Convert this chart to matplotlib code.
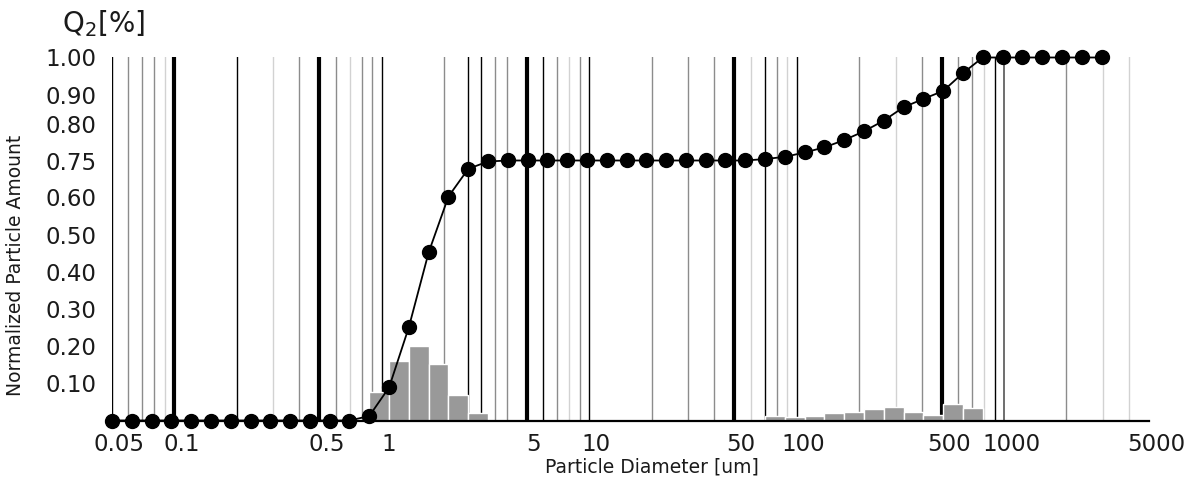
import numpy as np
import matplotlib
matplotlib.use("Agg")
import matplotlib.pyplot as plt
from matplotlib.ticker import NullLocator
from matplotlib.transforms import ScaledTranslation

# Particle diameters of the measured size classes [um]
diameters = [0.05, 0.0623, 0.0776, 0.0967, 0.120, 0.150, 0.187, 0.233, 0.290, 0.361,
             0.450, 0.561, 0.698, 0.870, 1.084, 1.350, 1.682, 2.095, 2.610, 3.251,
             4.050, 5.045, 6.285, 7.829, 9.753, 12.15, 15.13, 18.85, 23.48, 29.25,
             36.44, 45.39, 56.55, 70.44, 87.75, 109.3, 136.2, 169.6, 211.3, 263.2,
             327.9, 408.5, 508.8, 633.8, 789.6, 983.6, 1225.0, 1526.0, 1901.0, 2369.0,
             2951.0]

# Cumulative normalized amount Q2 at each diameter
cumulative = [0.0, 0.0, 0.0, 0.0, 0.0, 0.0, 0.0, 0.0, 0.0, 0.0,
              0.0, 0.0, 0.0, 0.012, 0.089, 0.251, 0.452, 0.603, 0.716, 0.746,
              0.75, 0.75, 0.75, 0.75, 0.75, 0.75, 0.75, 0.75, 0.75, 0.75,
              0.75, 0.75, 0.75, 0.752, 0.755, 0.761, 0.768, 0.778, 0.790, 0.812,
              0.859, 0.888, 0.912, 0.959, 1.0, 1.0, 1.0, 1.0, 1.0, 1.0,
              1.0]

# Class-wise amounts (histogram), fine fraction and coarse fraction
fine_bin_edges = [0.870, 1.084, 1.350, 1.682, 2.095, 2.610, 3.251]
fine_amounts = [0.076, 0.159, 0.200, 0.152, 0.069, 0.020]
coarse_bin_edges = [70.44, 87.75, 109.3, 136.2, 169.6, 211.3, 263.2, 327.9,
                    408.5, 508.8, 633.8, 789.6]
coarse_amounts = [0.013, 0.009, 0.013, 0.019, 0.024, 0.031, 0.035, 0.022,
                  0.016, 0.045, 0.033]

# Axis ticks
xtick_values = [0.05, 0.1, 0.5, 1, 5, 10, 50, 100, 500, 1000, 5000]
xtick_labels = ["0.05", "0.1", "0.5", "1", "5", "10", "50", "100", "500", "1000", "5000"]
ytick_values = [0.1, 0.2, 0.3, 0.4, 0.5, 0.6, 0.75, 0.8, 0.9, 1.0]
ytick_labels = ["0.10", "0.20", "0.30", "0.40", "0.50", "0.60", "0.75", "0.80", "0.90", "1.00"]

# Reference lines (sieve sizes) grouped by emphasis
thick_lines = [0.1, 0.5, 5, 50, 500]
black_lines = [0.05, 0.2, 1, 2.6, 3, 6, 10, 70, 100, 900]
dark_lines = [1000]
gray_lines = [0.06, 0.07, 0.08, 0.4, 0.6, 0.8, 0.9, 2, 3.5, 4, 7, 9, 20, 30, 40,
              80, 200, 400, 600, 700, 2000]
light_lines = [0.09, 0.3, 0.7, 8, 60, 90, 300, 800, 3000, 4000]

# Piecewise-linear vertical scale: value -> relative position
scale_values = np.array([0.0, 0.1, 0.2, 0.3, 0.4, 0.5, 0.6, 0.75, 0.8, 0.9, 1.0])
scale_positions = np.array([0.0, 37.2, 74.4, 111.6, 148.8, 186.0, 223.2, 260.0,
                            296.5, 325.0, 363.0])


def _piecewise(x, xp, fp):
    x = np.asarray(x, dtype=float)
    out = np.interp(x, xp, fp)
    lo_slope = (fp[1] - fp[0]) / (xp[1] - xp[0])
    hi_slope = (fp[-1] - fp[-2]) / (xp[-1] - xp[-2])
    out = np.where(x < xp[0], fp[0] + (x - xp[0]) * lo_slope, out)
    out = np.where(x > xp[-1], fp[-1] + (x - xp[-1]) * hi_slope, out)
    return out


def forward(v):
    return _piecewise(v, scale_values, scale_positions)


def inverse(p):
    return _piecewise(p, scale_positions, scale_values)


W, H = 1196, 486
fig = plt.figure(figsize=(W / 100, H / 100), dpi=100)
ax = fig.add_axes([112 / W, (H - 420.5) / H, (1149 - 112) / W, 363 / H])

ax.set_xscale("log")
ax.set_yscale("function", functions=(forward, inverse))
ax.set_xlim(0.05, 5000)
ax.set_ylim(0, 1.0)

for x in thick_lines:
    ax.axvline(x, color="black", lw=3.0, zorder=1)
for x in black_lines:
    ax.axvline(x, color="black", lw=1.0, zorder=1)
for x in dark_lines:
    ax.axvline(x, color="#555555", lw=1.2, zorder=1)
for x in gray_lines:
    ax.axvline(x, color="#8c8c8c", lw=1.0, zorder=1)
for x in light_lines:
    ax.axvline(x, color="#d2d2d2", lw=1.0, zorder=1)

# Histogram bars
for edges, amounts in ((fine_bin_edges, fine_amounts), (coarse_bin_edges, coarse_amounts)):
    left = np.array(edges[:-1])
    right = np.array(edges[1:])
    ax.bar(left, amounts, width=right - left, align="edge", color="#999999",
           edgecolor="white", linewidth=1.0, zorder=2)

# Cumulative curve
ax.plot(diameters, cumulative, color="black", lw=1.3, marker="o", markersize=10,
        markerfacecolor="black", markeredgecolor="black", zorder=4, clip_on=False)

for side in ("top", "right", "left"):
    ax.spines[side].set_visible(False)
ax.spines["bottom"].set_linewidth(1.6)
ax.spines["bottom"].set_color("black")
ax.spines["bottom"].set_zorder(5)

ax.set_xticks(xtick_values)
ax.set_xticklabels(xtick_labels)
ax.xaxis.set_minor_locator(NullLocator())
ax.set_yticks(ytick_values)
ax.set_yticklabels(ytick_labels)
ax.yaxis.set_minor_locator(NullLocator())
ax.tick_params(axis="both", length=0, labelsize=16.5, labelcolor="#1a1a1a")
ax.tick_params(axis="x", pad=9)
ax.tick_params(axis="y", pad=11)

shift = ScaledTranslation(7 / 100, 0, fig.dpi_scale_trans)
for lbl in ax.get_xticklabels():
    lbl.set_transform(lbl.get_transform() + shift)

fig.text(652 / W, (H - 467) / H, "Particle Diameter [um]", fontsize=13.5,
         color="#1a1a1a", ha="center", va="center")
fig.text(16 / W, (H - 265) / H, "Normalized Particle Amount", fontsize=13.5,
         color="#1a1a1a", ha="center", va="center", rotation=90)
fig.text(62 / W, (H - 24) / H, "Q$_2$[%]", fontsize=20, color="#1a1a1a",
         ha="left", va="center")

fig.savefig("out.png", dpi=100)
